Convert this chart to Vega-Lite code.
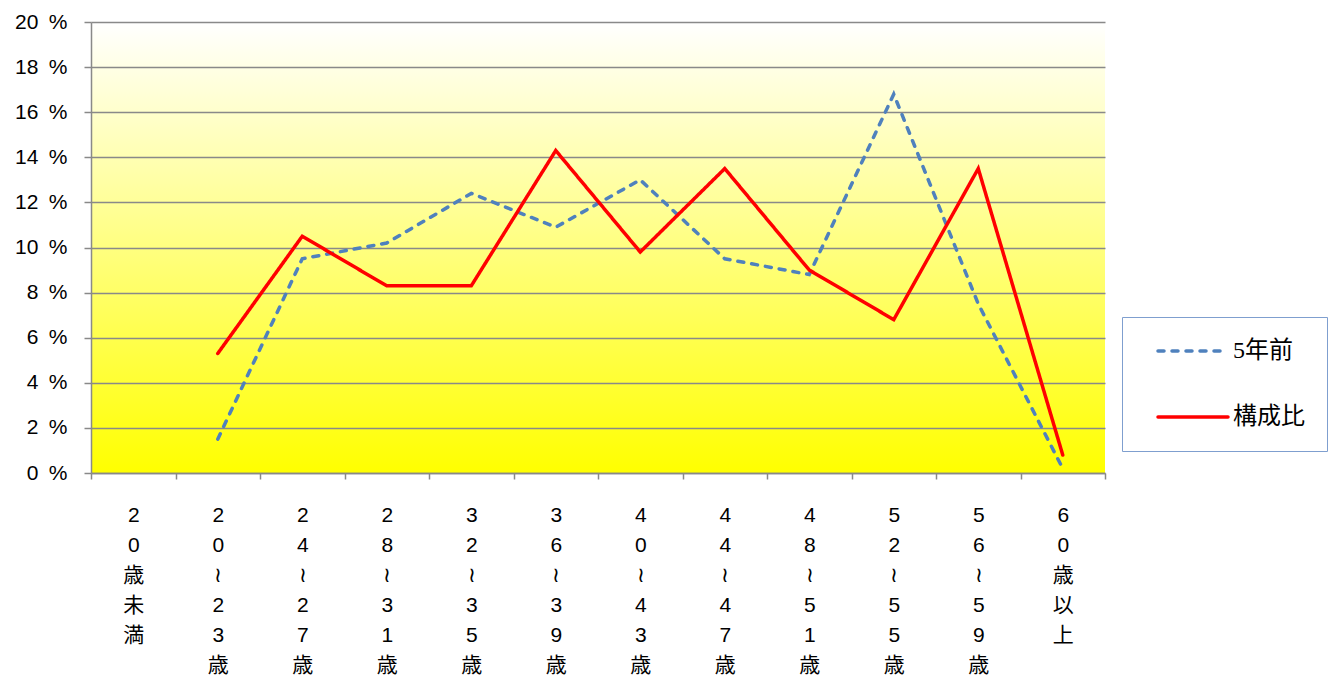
{
  "$schema": "https://vega.github.io/schema/vega-lite/v6.json",
  "width": 1014,
  "height": 451,
  "autosize": "none",
  "padding": {"left": 91, "top": 22, "right": 233, "bottom": 204},
  "background": "white",
  "config": {
    "view": {
      "stroke": null,
      "fill": {"gradient": "linear", "x1": 0, "y1": 0, "x2": 0, "y2": 1,
        "stops": [{"offset": 0, "color": "#ffffff"}, {"offset": 1, "color": "#ffff00"}]}
    },
    "axis": {
      "domainColor": "#898989", "domainWidth": 1.5,
      "tickColor": "#898989", "tickWidth": 1.5,
      "gridColor": "#898989", "gridWidth": 1.5,
      "labelColor": "#000000", "title": null
    },
    "legend": {
      "orient": "none", "legendX": 1031, "legendY": 295,
      "padding": 22, "strokeColor": "#7F9FCF", "fillColor": "#ffffff",
      "symbolType": "M0.2,0H7.2", "symbolSize": 400, "symbolStrokeWidth": 3.5,
      "labelOffset": 65, "rowPadding": 42,
      "labelFont": "Liberation Serif, Noto Sans CJK JP", "labelFontSize": 24, "labelColor": "#000000"
    }
  },
  "data": {
    "values": [
      {"age": "20～23歳", "series": "5年前", "value": 0.015},
      {"age": "24～27歳", "series": "5年前", "value": 0.095},
      {"age": "28～31歳", "series": "5年前", "value": 0.102},
      {"age": "32～35歳", "series": "5年前", "value": 0.124},
      {"age": "36～39歳", "series": "5年前", "value": 0.109},
      {"age": "40～43歳", "series": "5年前", "value": 0.130},
      {"age": "44～47歳", "series": "5年前", "value": 0.095},
      {"age": "48～51歳", "series": "5年前", "value": 0.088},
      {"age": "52～55歳", "series": "5年前", "value": 0.168},
      {"age": "56～59歳", "series": "5年前", "value": 0.075},
      {"age": "60歳以上", "series": "5年前", "value": 0.002},
      {"age": "20～23歳", "series": "構成比", "value": 0.053},
      {"age": "24～27歳", "series": "構成比", "value": 0.105},
      {"age": "28～31歳", "series": "構成比", "value": 0.083},
      {"age": "32～35歳", "series": "構成比", "value": 0.083},
      {"age": "36～39歳", "series": "構成比", "value": 0.143},
      {"age": "40～43歳", "series": "構成比", "value": 0.098},
      {"age": "44～47歳", "series": "構成比", "value": 0.135},
      {"age": "48～51歳", "series": "構成比", "value": 0.090},
      {"age": "52～55歳", "series": "構成比", "value": 0.068},
      {"age": "56～59歳", "series": "構成比", "value": 0.135},
      {"age": "60歳以上", "series": "構成比", "value": 0.008}
    ]
  },
  "mark": {"type": "line", "strokeWidth": 3.5, "strokeCap": "round", "strokeJoin": "miter"},
  "encoding": {
    "x": {
      "field": "age", "type": "nominal", "sort": null,
      "scale": {
        "type": "band", "paddingInner": 0, "paddingOuter": 0,
        "domain": ["20歳未満", "20～23歳", "24～27歳", "28～31歳", "32～35歳", "36～39歳", "40～43歳", "44～47歳", "48～51歳", "52～55歳", "56～59歳", "60歳以上"]
      },
      "axis": {
        "grid": false, "tickBand": "extent", "tickSize": 6,
        "labelAngle": 0, "labelBaseline": "top", "labelPadding": 25,
        "labelFont": "Liberation Sans, Noto Sans CJK JP", "labelFontSize": 21, "labelLineHeight": 30,
        "labelExpr": "split(replace(datum.label, '～', '≀'), '')"
      }
    },
    "y": {
      "field": "value", "type": "quantitative",
      "scale": {"domain": [0, 0.2]},
      "axis": {
        "values": [0, 0.02, 0.04, 0.06, 0.08, 0.1, 0.12, 0.14, 0.16, 0.18, 0.2],
        "format": ".0%", "labelExpr": "replace(datum.label, '%', '\u2002%')",
        "tickSize": 7, "labelPadding": 17,
        "labelFont": "Liberation Sans", "labelFontSize": 21
      }
    },
    "color": {
      "field": "series", "type": "nominal",
      "scale": {"domain": ["5年前", "構成比"], "range": ["#4F81BD", "#FF0000"]},
      "legend": {"title": null, "encode": {"symbols": {"update": {"strokeCap": {"value": "round"}}}}}
    },
    "strokeDash": {
      "field": "series", "type": "nominal",
      "scale": {"domain": ["5年前", "構成比"], "range": [[6, 8], [1, 0]]},
      "legend": {"title": null, "encode": {"symbols": {"update": {"strokeCap": {"value": "round"}}}}}
    }
  }
}
